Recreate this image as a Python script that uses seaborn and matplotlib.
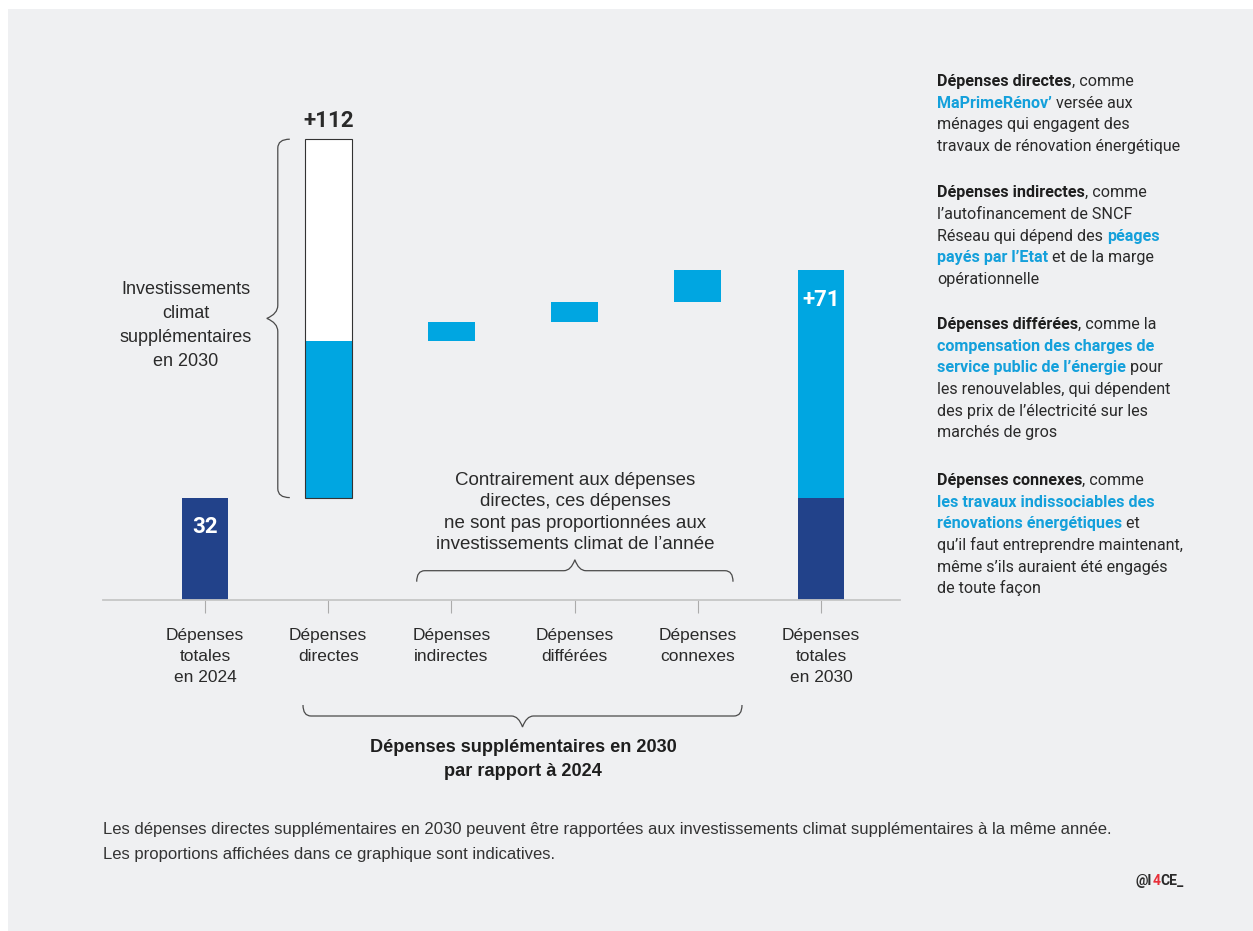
import numpy as np
import pandas as pd
import matplotlib
matplotlib.use("Agg")
import matplotlib.pyplot as plt
from matplotlib.path import Path
from matplotlib.patches import PathPatch, Rectangle
from matplotlib.transforms import Affine2D, IdentityTransform
import seaborn as sns

# Data (billions of euros)
categories = ["Dépenses\ntotales\nen 2024", "Dépenses\ndirectes", "Dépenses\nindirectes",
              "Dépenses\ndifférées", "Dépenses\nconnexes", "Dépenses\ntotales\nen 2030"]
spend_2024 = 32
extra_direct = 112               # climate investments reached by direct spending
extra_steps = [49, 6, 6, 10]     # direct (public share), indirect, deferred, related
extra_total = 71

notes = [
    [[("Dépenses directes", "b"), (", comme", "n")],
     [("MaPrimeRénov’", "c"), (" versée aux", "n")],
     [("ménages qui engagent des", "n")],
     [("travaux de rénovation énergétique", "n")]],
    [[("Dépenses indirectes", "b"), (", comme", "n")],
     [("l’autofinancement de SNCF", "n")],
     [("Réseau qui dépend des ", "n"), ("péages", "c")],
     [("payés par l’Etat", "c"), (" et de la marge", "n")],
     [("opérationnelle", "n")]],
    [[("Dépenses différées", "b"), (", comme la", "n")],
     [("compensation des charges de", "c")],
     [("service public de l’énergie", "c"), (" pour", "n")],
     [("les renouvelables, qui dépendent", "n")],
     [("des prix de l’électricité sur les", "n")],
     [("marchés de gros", "n")]],
    [[("Dépenses connexes", "b"), (", comme", "n")],
     [("les travaux indissociables des", "c")],
     [("rénovations énergétiques", "c"), (" et", "n")],
     [("qu’il faut entreprendre maintenant,", "n")],
     [("même s’ils auraient été engagés", "n")],
     [("de toute façon", "n")]],
]
note_tops = [86, 197.3, 329, 485]

invest_label = ["Investissements", "climat", "supplémentaires", "en 2030"]
middle_note = ["Contrairement aux dépenses", "directes, ces dépenses",
               "ne sont pas proportionnées aux", "investissements climat de l’année"]
bottom_note = ["Dépenses supplémentaires en 2030", "par rapport à 2024"]
footnote = ["Les dépenses directes supplémentaires en 2030 peuvent être rapportées aux "
            "investissements climat supplémentaires à la même année.",
            "Les proportions affichées dans ce graphique sont indicatives."]
logo_parts = [("@I", "#2a2a2a"), ("4", "#e8303a"), ("CE_", "#2a2a2a")]

# colours / fonts
BG = "#eff0f2"
DARK = "#22428a"
BLUE = "#00a6e1"
TXT = "#2a2a2a"
TXT_BLUE = "#14a0db"
BRACE = "#4a4a4a"
REG = ["Liberation Sans", "DejaVu Sans"]
NARROW = ["Roboto", "DejaVu Sans"]

sns.set_theme(style="white")
plt.rcParams["font.family"] = REG

W, H = 1253, 931
fig = plt.figure(figsize=(W / 100, H / 100), dpi=100)
fig.patch.set_facecolor("white")
PX = Affine2D().scale(1, -1).translate(0, H)   # pixel coords, origin top-left
fig.add_artist(Rectangle((8, 9), W, H, transform=PX, facecolor=BG, edgecolor="none", zorder=-10))

ax = fig.add_axes([103 / W, (H - 600) / H, 797 / W, 500 / H])
ax.patch.set_visible(False)

bw = 0.38
base = pd.DataFrame({"cat": categories,
                     "value": [spend_2024, 0, 0, 0, 0, spend_2024]})
sns.barplot(data=base, x="cat", y="value", color=DARK, width=bw, saturation=1,
            linewidth=0, ax=ax)

cum = spend_2024 + np.cumsum([0] + extra_steps)
ax.bar(range(1, 5), extra_steps, bottom=cum[:-1], width=bw, color=BLUE, lw=0)
ax.bar(1, extra_direct - extra_steps[0], bottom=cum[1], width=bw, color="white", lw=0)
ax.bar(1, extra_direct, bottom=spend_2024, width=bw, fill=False, edgecolor="#333333",
       lw=0.8, zorder=3)
ax.bar(5, extra_total, bottom=spend_2024, width=bw, color=BLUE, lw=0)

ax.set_xlim((103 - 205) / 123.2, (900 - 205) / 123.2)
ax.set_ylim(0, 500 / 3.2)
ax.set_xlabel("")
ax.set_ylabel("")
for s in ["top", "left", "right"]:
    ax.spines[s].set_visible(False)
ax.spines["bottom"].set_color("#c6c6c6")
ax.spines["bottom"].set_linewidth(1.3)
ax.tick_params(axis="x", bottom=True, length=9.4, width=0.8, color="#ababab", pad=11,
               labelsize=12.5, labelcolor=TXT)
ax.tick_params(axis="y", left=False, labelleft=False)
for lbl in ax.get_xticklabels():
    lbl.set_linespacing(1.5)

num = dict(ha="center", va="baseline", fontsize=16, fontweight="bold", family=NARROW,
           textcoords="offset points")
ax.annotate(f"{spend_2024}", (0, spend_2024), xytext=(0, -25.3), color="white", **num)
ax.annotate(f"+{extra_direct}", (1, spend_2024 + extra_direct), xytext=(0, 8.9), color=TXT, **num)
ax.annotate(f"+{extra_total}", (5, spend_2024 + extra_total), xytext=(0, -25.7), color="white", **num)


def brace(p0, p1, h, d, r, t):
    p0, p1 = np.array(p0, float), np.array(p1, float)
    L = np.linalg.norm(p1 - p0)
    u = (p1 - p0) / L
    n = np.array([-u[1], u[0]])
    m = L / 2
    P = lambda a, b: p0 + a * u + b * n
    verts = [P(0, 0), P(0, h), P(r, h), P(m - t, h), P(m - 0.35 * t, h), P(m, d),
             P(m + 0.35 * t, h), P(m + t, h), P(L - r, h), P(L, h), P(L, 0)]
    codes = [Path.MOVETO, Path.CURVE3, Path.CURVE3, Path.LINETO, Path.CURVE3, Path.CURVE3,
             Path.CURVE3, Path.CURVE3, Path.LINETO, Path.CURVE3, Path.CURVE3]
    fig.add_artist(PathPatch(Path(verts, codes), transform=IdentityTransform(),
                             fill=False, edgecolor=BRACE, lw=0.9))


y_bot = ax.transData.transform((1, spend_2024))[1]
y_top = ax.transData.transform((1, spend_2024 + extra_direct))[1]
x_br = ax.transData.transform((1 - bw / 2, 0))[0] - 15
brace((x_br, y_bot), (x_br, y_top), 12, 23, 9, 13)
brace((416.7, H - 581.7), (733, H - 581.7), 11, 22, 8, 11)
brace((742, H - 705), (303, H - 705), 11, 22, 8, 11)


def lines(txts, x, y0, dy, **kw):
    for i, s in enumerate(txts):
        fig.text(x, y0 + i * dy, s, transform=PX, va="baseline", **kw)


lines(invest_label, 186, 294.3, 23.8, ha="center", fontsize=13, color=TXT)
lines(middle_note, 575, 485, 21.3, ha="center", fontsize=13.5, color=TXT)
lines(bottom_note, 523, 752.5, 24, ha="center", fontsize=13.1, fontweight="bold", color="#1e1e1e")
lines(footnote, 103, 834, 25, ha="left", fontsize=12, color="#333333")

renderer = fig.canvas.get_renderer()


def extent(s, x, y, kw):
    t = fig.text(x, y, s, **kw)
    e = t.get_window_extent(renderer)
    t.remove()
    return e


def advance(s, kw):
    # width of "|s|" minus width of "||" gives the pen advance of s
    return extent("|" + s + "|", 0, 0, kw).width - extent("||", 0, 0, kw).width


styles = {"b": dict(color="#1e1e1e", fontweight="bold"),
          "n": dict(color=TXT, fontweight="normal"),
          "c": dict(color=TXT_BLUE, fontweight="bold")}


def rich(x, y, segs, size, family):
    for s, st in segs:
        kw = dict(fontsize=size, family=family, transform=PX, va="baseline", ha="left")
        kw.update(styles[st])
        fig.text(x, y, s, **kw)
        x += advance(s, kw)


for block, top in zip(notes, note_tops):
    for i, segs in enumerate(block):
        rich(937, top + i * 21.7, segs, 11.6, NARROW)

# logo: each part is right-aligned to where it ends in the whole word
logo_kw = dict(fontsize=10, family=NARROW, fontweight="bold", transform=PX,
               va="baseline", ha="left")
lx, ly = 1136, 885
word = ""
for part, col in logo_parts:
    word += part
    x_end = extent(word, lx, ly, logo_kw).x1
    fig.text(x_end - extent(part, lx, ly, logo_kw).width, ly, part, color=col, **logo_kw)

fig.savefig("out.png", dpi=100)
